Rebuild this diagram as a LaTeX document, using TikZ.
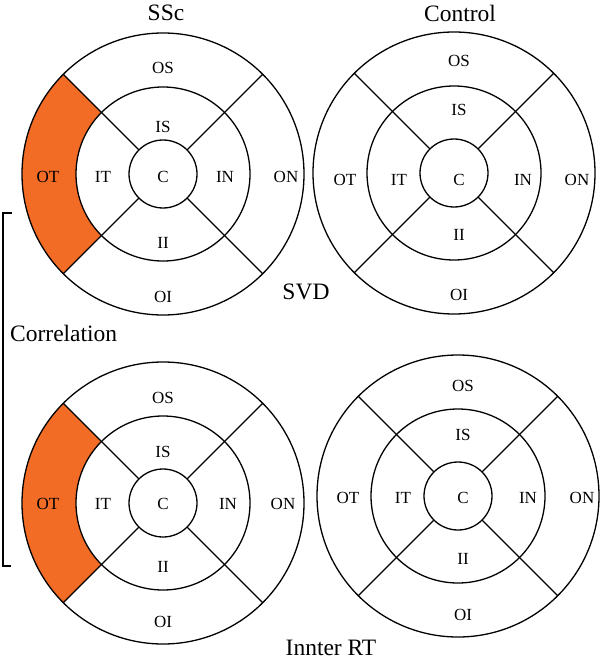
\documentclass[tikz,border=0pt]{standalone}
\usepackage{fontspec}
\setmainfont{Liberation Serif}
\definecolor{segorange}{RGB}{242,108,38}
\tikzset{
  ring/.style={draw=black, line width=1.3pt},
  seglabel/.style={inner sep=0pt, font=\fontsize{17}{19}\selectfont},
  titlelabel/.style={inner sep=0pt, font=\fontsize{23.5}{26}\selectfont},
  bracketline/.style={draw=black, line width=1.2pt}
}
\newcommand\retchart[2]{%
  \draw[ring] (#1) circle[radius=141];
  \draw[ring] (#1) circle[radius=87];
  \draw[ring] (#1) circle[radius=34];
  \foreach \a in {45,135,225,315}{\draw[ring] ($(#1)+(\a:34)$) -- ($(#1)+(\a:141)$);}
}
\usetikzlibrary{calc}
\begin{document}
\begin{tikzpicture}[x=1pt,y=-1pt]
\useasboundingbox (0,0) rectangle (600,663);
% centres
\coordinate (cTL) at (163,174);
\coordinate (cTR) at (454,173);
\coordinate (cBL) at (163,503);
\coordinate (cBR) at (458,496);
% orange sectors
\fill[segorange] ($(cTL)+(135:141)$) arc[start angle=135,end angle=225,radius=141] -- ($(cTL)+(225:87)$) arc[start angle=225,end angle=135,radius=87] -- cycle;
\fill[segorange] ($(cBL)+(135:141)$) arc[start angle=135,end angle=225,radius=141] -- ($(cBL)+(225:87)$) arc[start angle=225,end angle=135,radius=87] -- cycle;
\retchart{cTL}{}
\retchart{cTR}{}
\retchart{cBL}{}
\retchart{cBR}{}
% labels TL
\node[seglabel] (tlOS) at (163,68) {OS};
\node[seglabel] (tlIS) at (163,127) {IS};
\node[seglabel] (tlC) at (163,177) {C};
\node[seglabel] (tlII) at (163,243) {II};
\node[seglabel] (tlOI) at (163,297) {OI};
\node[seglabel] (tlOT) at (48,177) {OT};
\node[seglabel] (tlIT) at (103,177) {IT};
\node[seglabel] (tlIN) at (225,177) {IN};
\node[seglabel] (tlON) at (286,177) {ON};
% labels TR
\node[seglabel] (trOS) at (459,61) {OS};
\node[seglabel] (trIS) at (459,110) {IS};
\node[seglabel] (trC) at (459,180) {C};
\node[seglabel] (trII) at (459,235) {II};
\node[seglabel] (trOI) at (459,295) {OI};
\node[seglabel] (trOT) at (345,180) {OT};
\node[seglabel] (trIT) at (399,180) {IT};
\node[seglabel] (trIN) at (523,180) {IN};
\node[seglabel] (trON) at (577,180) {ON};
% labels BL
\node[seglabel] (blOS) at (163,398) {OS};
\node[seglabel] (blIS) at (163,452) {IS};
\node[seglabel] (blC) at (163,504) {C};
\node[seglabel] (blII) at (163,567) {II};
\node[seglabel] (blOI) at (163,622) {OI};
\node[seglabel] (blOT) at (48,504) {OT};
\node[seglabel] (blIT) at (103,504) {IT};
\node[seglabel] (blIN) at (228,504) {IN};
\node[seglabel] (blON) at (283,504) {ON};
% labels BR
\node[seglabel] (brOS) at (463,386) {OS};
\node[seglabel] (brIS) at (463,435) {IS};
\node[seglabel] (brC) at (463,498) {C};
\node[seglabel] (brII) at (463,559) {II};
\node[seglabel] (brOI) at (463,615) {OI};
\node[seglabel] (brOT) at (348,498) {OT};
\node[seglabel] (brIT) at (403,498) {IT};
\node[seglabel] (brIN) at (528,498) {IN};
\node[seglabel] (brON) at (582,498) {ON};
% titles
\node[titlelabel] (tSSc) at (166,13) {SSc};
\node[titlelabel] (tCtrl) at (460,13) {Control};
\node[titlelabel] (tSVD) at (306,292) {SVD};
\node[titlelabel] (tRT) at (331,648) {Innter RT};
\node[titlelabel, anchor=west] (tCorr) at (10,333) {Correlation};
% bracket
\coordinate (bT) at (12,213);
\coordinate (bTc) at (3,213);
\coordinate (bBc) at (3,566);
\coordinate (bB) at (11,566);
\draw[bracketline] (bT) -- (bTc) -- (bBc) -- (bB);
\end{tikzpicture}
\end{document}
